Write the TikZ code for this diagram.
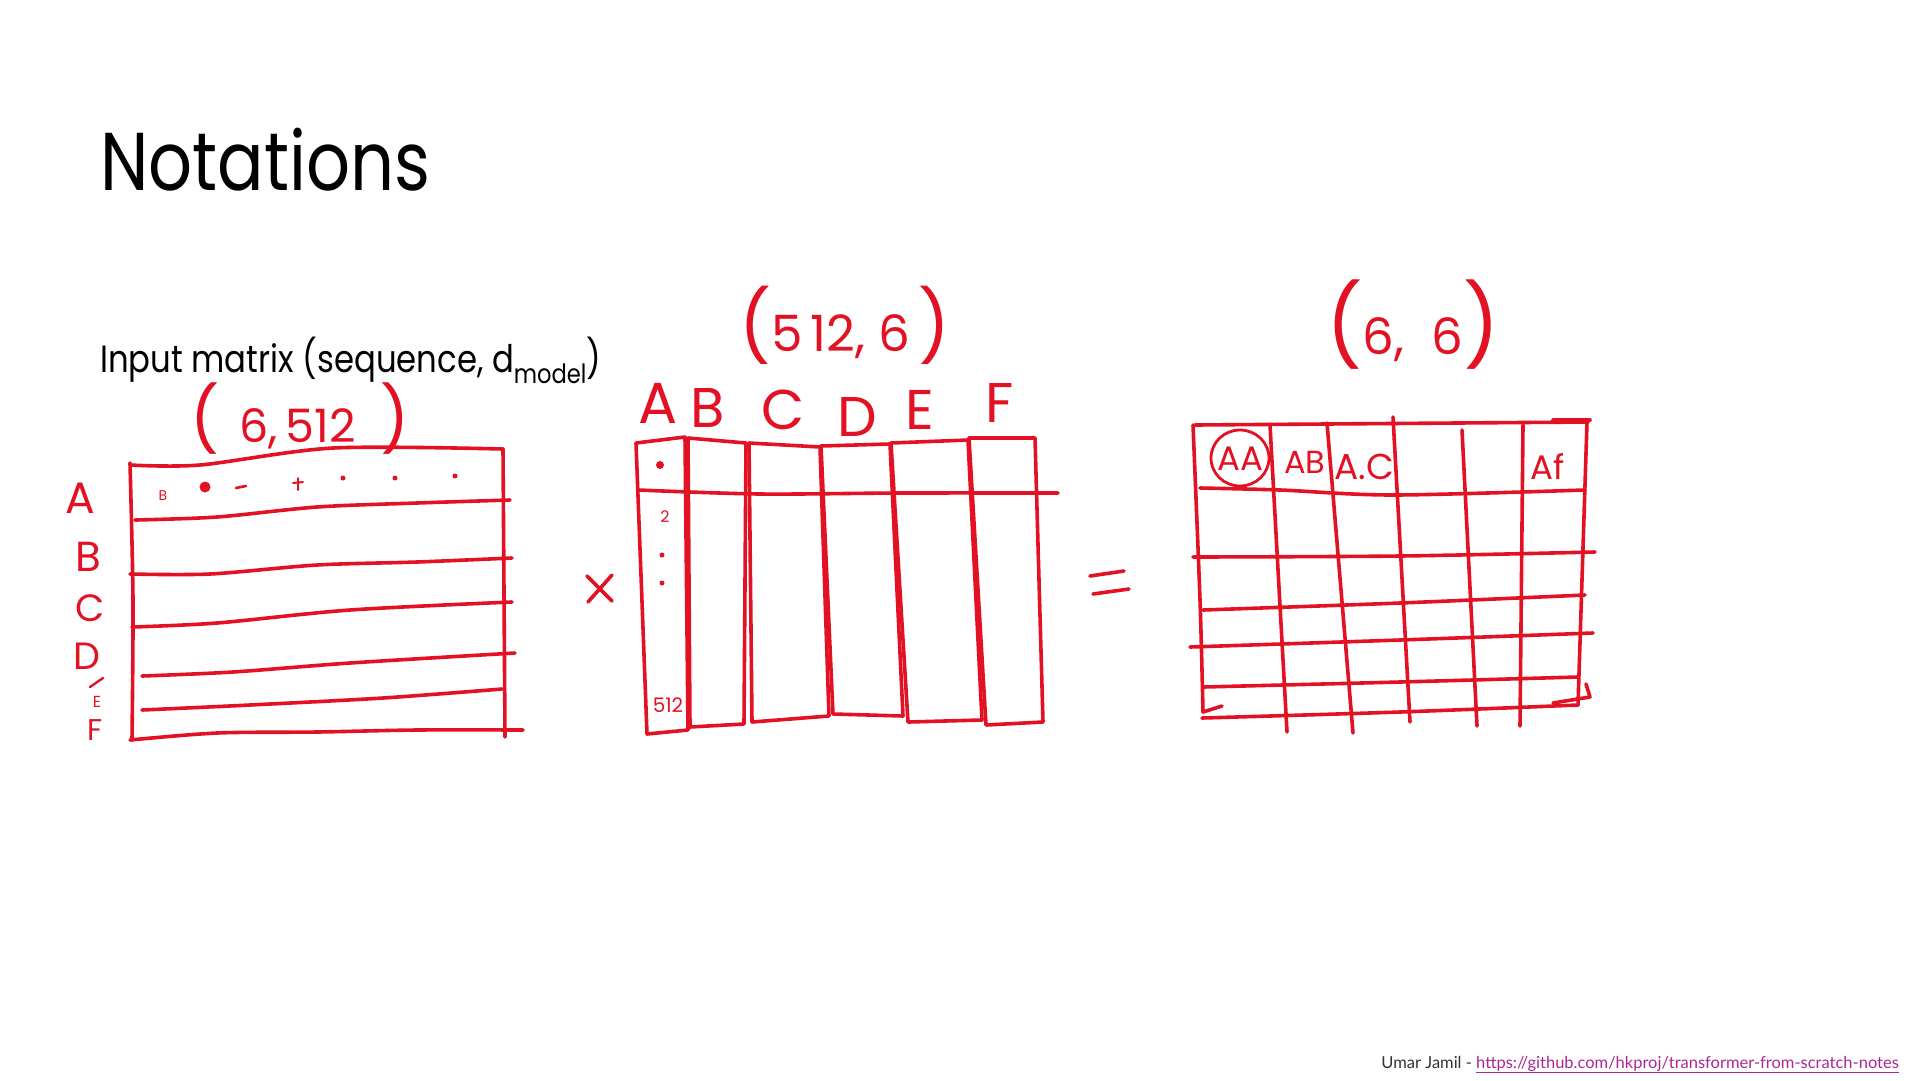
\documentclass[tikz,border=0pt]{standalone}
\usepackage{fontspec}
\setmainfont{Poppins}
\newfontfamily\footfont{Lato}
\definecolor{ink}{RGB}{226,18,36}
\definecolor{linkc}{RGB}{170,40,150}
\definecolor{graytxt}{RGB}{50,50,50}
\begin{document}
\begin{tikzpicture}[x=1pt,y=-1pt,
  pen/.style={draw=ink,line width=3.6pt,line cap=round,line join=round},
  hand/.style={text=ink,inner sep=0pt,font=\fontsize{#1}{#1}\selectfont},
  dotmark/.style={fill=ink,draw=none}]
\useasboundingbox[fill=white] (0,0) rectangle (1920,1080);

% ---------- typeset text ----------
\node[anchor=base west,inner sep=0pt,font=\fontsize{82}{82}\selectfont] (title) at (100,190) {\scalebox{0.84}[1]{Notations}};
\node[anchor=base west,inner sep=0pt,font=\fontsize{38}{38}\selectfont] (inp) at (100,372) {\scalebox{0.85}[1]{Input matrix (sequence, d\textsubscript{model})}};
\node[anchor=base east,inner sep=0pt,font=\footfont\fontsize{16.5}{16.5}\selectfont] (foot) at (1899,1068)
  {\textcolor{graytxt}{Umar Jamil - }\textcolor{linkc}{\underline{https://github.com/hkproj/transformer-from-scratch-notes}}};

% ---------- left matrix (6,512) ----------
\node[hand=46] (lshape) at (300,419) {{\fontsize{64}{64}\selectfont(}\ \,6,\,512\ \ {\fontsize{64}{64}\selectfont)}};
\draw[pen] plot[smooth] coordinates {(130,465) (200,465) (333,448) (503,449)};
\draw[pen] plot[smooth] coordinates {(130,463) (133,600) (132,740)};
\draw[pen] (503,449) -- (505,737);
\draw[pen] plot[smooth] coordinates {(135,520) (217,517) (317,507) (417,503) (510,500)};
\draw[pen] plot[smooth] coordinates {(130,574) (210,574) (317,565) (417,562) (512,558)};
\draw[pen] plot[smooth] coordinates {(132,627) (217,623) (350,610) (512,602)};
\draw[pen] plot[smooth] coordinates {(142,676) (233,672) (350,663) (515,653)};
\draw[pen] plot[smooth] coordinates {(142,710) (250,705) (383,698) (502,689)};
\draw[pen] plot[smooth] coordinates {(130,740) (217,733) (317,732) (417,730) (523,730)};
% row letters
\node[hand=44] (ra) at (80,498) {A};
\node[hand=42] (rb) at (88,557) {B};
\node[hand=38] (rc) at (90,608) {C};
\node[hand=38] (rd) at (87,656) {D};
\draw[pen,line width=2.4pt] (90,687) -- (103,678);
\node[hand=16] (re) at (97,702) {E};
\node[hand=30] (rf) at (95,730) {F};
% marks in first row
\node[hand=14] (mb) at (163,496) {B};
\fill[dotmark] (205,487) circle (5.5);
\draw[pen,line width=2.6pt] (236,488) -- (246,486);
\draw[pen,line width=2pt] (293,483) -- (303,482) (298,478) -- (298,490);
\fill[dotmark] (343,478) circle (2.5);
\fill[dotmark] (395,478) circle (2.5);
\fill[dotmark] (455,476) circle (2.5);

% ---------- times sign ----------
\draw[pen] (587,576) -- (612,601) (612,575) -- (588,602);

% ---------- middle matrix (512,6) ----------
\node[hand=50] (mshape) at (845,325) {{\fontsize{70}{70}\selectfont(}5\,12,\ 6\,{\fontsize{70}{70}\selectfont)}};
\node[hand=58] (ca) at (658,403) {A};
\node[hand=56] (cb) at (708,408) {B};
\node[hand=56] (cc) at (783,410) {C};
\node[hand=56] (cd) at (857,417) {D};
\node[hand=56] (ce) at (920,410) {E};
\node[hand=56] (cf) at (1000,403) {F};
\draw[pen] (636,443) -- (685,437) -- (688,730) -- (647,734) -- cycle;
\draw[pen] (688,438) -- (746,443) -- (744,724) -- (690,727) -- cycle;
\draw[pen] (749,443) -- (820,447) -- (829,716) -- (752,722) -- cycle;
\draw[pen] (821,446) -- (890,444) -- (903,716) -- (833,714) -- cycle;
\draw[pen] (891,443) -- (968,440) -- (982,720) -- (908,722) -- cycle;
\draw[pen] (969,438) -- (1035,438) -- (1043,722) -- (986,725) -- cycle;
\draw[pen] plot[smooth] coordinates {(638,490) (760,494) (900,493) (1058,493)};
\fill[dotmark] (660,465) circle (4);
\node[hand=16] (m2) at (665,517) {2};
\fill[dotmark] (662,555) circle (2.5);
\fill[dotmark] (662,583) circle (2.5);
\node[hand=20] (m512) at (668,705) {512};

% ---------- equals sign ----------
\draw[pen] (1090,576) -- (1124,571) (1093,594) -- (1129,589);

% ---------- right matrix (6,6) ----------
\node[hand=50] (rshape) at (1413,325) {{\fontsize{80}{80}\selectfont(}6,\ \ 6{\fontsize{80}{80}\selectfont)}};
\draw[pen] (1195,425) -- (1588,422);
\draw[pen] (1553,420) -- (1590,420);
\draw[pen] plot[smooth] coordinates {(1193,425) (1200,600) (1203,712)};
\draw[pen] (1203,712) -- (1222,706);
\draw[pen] (1270,425) -- (1287,732);
\draw[pen] (1327,423) -- (1353,733);
\draw[pen] (1393,417) -- (1410,722);
\draw[pen] (1462,430) -- (1477,726);
\draw[pen] (1523,425) -- (1520,726);
\draw[pen] (1587,422) -- (1578,705);
\draw[pen] plot[smooth] coordinates {(1200,488) (1280,490) (1393,495) (1585,490)};
\draw[pen] plot[smooth] coordinates {(1193,557) (1400,556) (1595,552)};
\draw[pen] plot[smooth] coordinates {(1203,610) (1400,603) (1585,595)};
\draw[pen] plot[smooth] coordinates {(1190,647) (1400,640) (1593,633)};
\draw[pen] plot[smooth] coordinates {(1203,687) (1400,682) (1578,677)};
\draw[pen] plot[smooth] coordinates {(1202,718) (1400,712) (1578,705)};
\draw[pen] (1553,703) -- (1590,697) -- (1586,684);
\node[hand=34] (aa) at (1240,459) {AA};
\draw[pen,line width=2.8pt] (1240,458) ellipse [x radius=29pt,y radius=28pt];
\node[hand=32] (ab) at (1305,462) {AB};
\node[hand=36] (ac) at (1364,467) {A.C};
\node[hand=34] (af) at (1548,467) {Af};
\end{tikzpicture}
\end{document}
